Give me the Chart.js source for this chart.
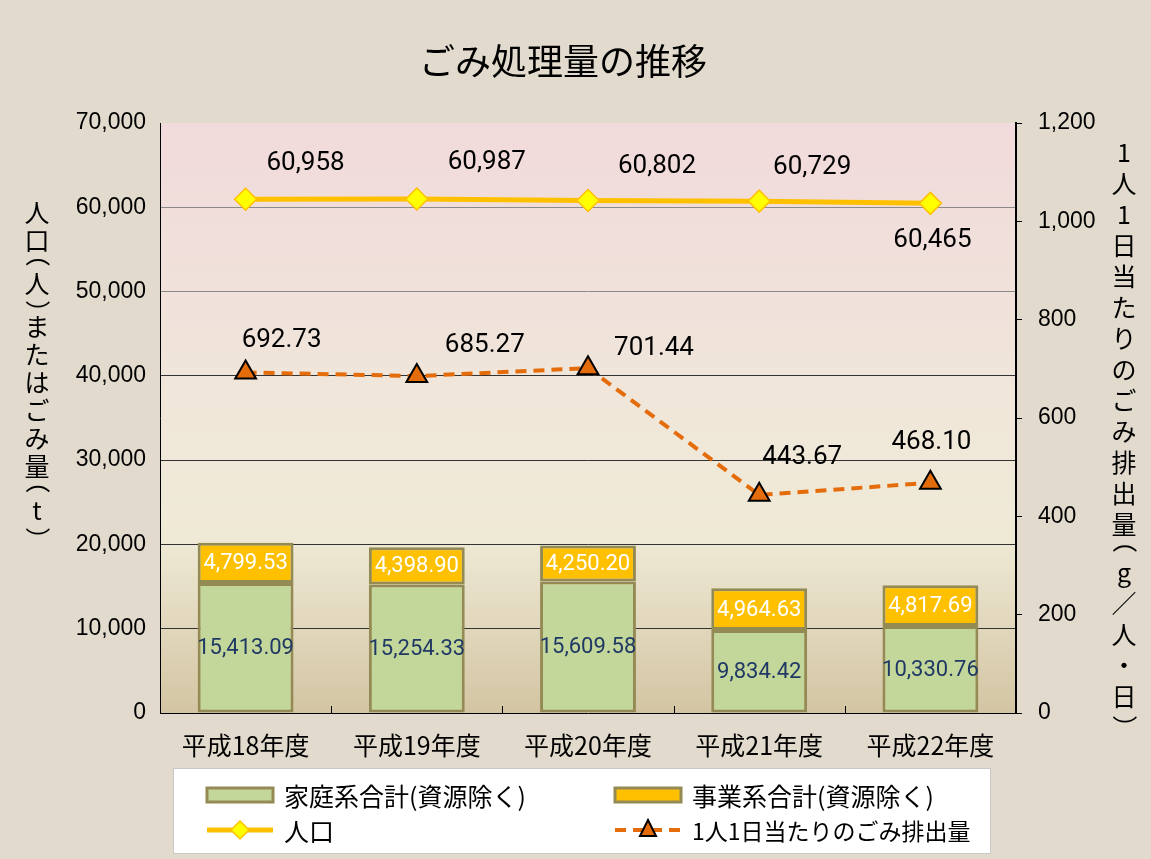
<!DOCTYPE html>
<html>
<head>
<meta charset="utf-8">
<script src="https://cdn.jsdelivr.net/npm/chart.js@4.4.1/dist/chart.umd.min.js"></script>
<style>
  html, body { margin: 0; padding: 0; background: #e2dbcd; }
  #wrap { width: 1151px; height: 859px; }
</style>
</head>
<body>
<div id="wrap"><canvas id="GomiChart"></canvas></div>
<script>
var years = ['平成18年度', '平成19年度', '平成20年度', '平成21年度', '平成22年度'];
var katei = [15413.09, 15254.33, 15609.58, 9834.42, 10330.76];   // 家庭系合計(資源除く) t
var jigyo = [4799.53, 4398.90, 4250.20, 4964.63, 4817.69];       // 事業系合計(資源除く) t
var jinko = [60958, 60987, 60802, 60729, 60465];                 // 人口
var haishutsu = [692.73, 685.27, 701.44, 443.67, 468.10];        // g/人・日

var leftTitle = '人口（人）またはごみ量（t）';
var rightTitle = '1人1日当たりのごみ排出量（g／人・日）';

// ラベルのずらし量 (px)
var jinkoOffsets = [[60, -36], [70, -36], [69, -34], [53, -34], [2, 37]];
var haiOffsets = [[36, -32], [68, -31], [66, -20], [43, -37], [1, -40]];

var jpFont = '"Noto Sans CJK JP", sans-serif';
var numFont = 'Roboto, "Liberation Sans", sans-serif';
var tickFont = '"Liberation Sans", Arial, sans-serif';

function fmt(v, d) {
  return v.toLocaleString('en-US', { minimumFractionDigits: d, maximumFractionDigits: d });
}

// 背景グラデーション、タイトル、縦書き軸タイトル
var decoPlugin = {
  id: 'deco',
  beforeDraw: function(chart) {
    var c = chart.ctx, a = chart.chartArea;
    var g = c.createLinearGradient(0, a.top, 0, a.bottom);
    g.addColorStop(0, '#f1dadb');
    g.addColorStop(0.45, '#f0e6da');
    g.addColorStop(0.7, '#efead6');
    g.addColorStop(1, '#d3c5a3');
    c.save();
    c.fillStyle = g;
    c.fillRect(a.left, a.top, a.right - a.left, a.bottom - a.top);
    c.restore();
  },
  afterDraw: function(chart) {
    var c = chart.ctx;
    c.save();
    c.fillStyle = '#000';
    c.textAlign = 'center';
    c.textBaseline = 'middle';
    c.font = '36px ' + jpFont;
    c.fillText('ごみ処理量の推移', 563, 61);
    drawVertical(c, leftTitle, 37, 212, 28, 25);
    drawVertical(c, rightTitle, 1124, 152, 31, 25);

    // 項目軸の目盛 (内向き)
    var xs = chart.scales.x, a = chart.chartArea;
    c.strokeStyle = '#000';
    c.lineWidth = 1;
    for (var i = 0; i < years.length - 1; i++) {
      var px = (xs.getPixelForValue(i) + xs.getPixelForValue(i + 1)) / 2;
      c.beginPath();
      c.moveTo(Math.round(px) + 0.5, a.bottom);
      c.lineTo(Math.round(px) + 0.5, a.bottom - 7);
      c.stroke();
    }
    c.restore();
  }
};

// 縦書き (括弧は90度回転)
function drawVertical(c, text, x, y, step, size) {
  c.font = size + 'px ' + jpFont;
  var chars = Array.from(text);
  for (var i = 0; i < chars.length; i++) {
    var ch = chars[i];
    if (ch === '（' || ch === '）') {
      var h = step * 0.55;
      var mid = y - step / 2 + h / 2;
      var shift = size * 0.3 * (ch === '（' ? -1 : 1);
      c.save();
      c.translate(x, mid + shift);
      c.rotate(Math.PI / 2);
      c.fillText(ch, 0, 0);
      c.restore();
      y += h;
    } else {
      c.fillText(ch, x, y);
      y += step;
    }
  }
}

// データラベル
var labelPlugin = {
  id: 'labels',
  afterDatasetsDraw: function(chart) {
    var c = chart.ctx;
    c.save();
    c.textAlign = 'center';
    c.textBaseline = 'middle';
    chart.data.datasets.forEach(function(ds, di) {
      var meta = chart.getDatasetMeta(di);
      meta.data.forEach(function(el, i) {
        if (ds.type === 'line') {
          var off = ds.label === '人口' ? jinkoOffsets[i] : haiOffsets[i];
          c.font = '26px ' + numFont;
          c.fillStyle = '#000';
          c.fillText(ds.label === '人口' ? fmt(ds.data[i], 0) : fmt(ds.data[i], 2), el.x + off[0], el.y + off[1]);
        } else {
          c.font = '22px ' + numFont;
          c.fillStyle = ds.labelColor;
          c.fillText(fmt(ds.data[i], 2), el.x, (el.y + el.base) / 2 + 1);
        }
      });
    });
    c.restore();
  }
};

// 凡例 (2列)
var legendPlugin = {
  id: 'legendBox',
  afterDraw: function(chart) {
    var c = chart.ctx;
    var ds = chart.data.datasets;
    c.save();
    c.fillStyle = '#ffffff';
    c.fillRect(173, 768, 817, 85);
    c.strokeStyle = '#c8c8c8';
    c.lineWidth = 1;
    c.strokeRect(173.5, 768.5, 817, 85);

    c.textAlign = 'left';
    c.textBaseline = 'middle';
    var cols = [207, 615];
    var rows = [795, 830];
    var order = [2, 3, 0, 1];
    order.forEach(function(di, k) {
      var d = ds[di];
      var x = cols[k % 2], y = rows[Math.floor(k / 2)];
      if (d.type === 'line') {
        c.strokeStyle = d.borderColor;
        c.lineWidth = d.borderWidth;
        c.setLineDash(d.borderDash || []);
        c.beginPath();
        c.moveTo(x, y);
        c.lineTo(x + 66, y);
        c.stroke();
        c.setLineDash([]);
        c.fillStyle = d.pointBackgroundColor;
        c.strokeStyle = d.pointBorderColor;
        c.lineWidth = d.pointBorderWidth;
        c.beginPath();
        if (d.pointStyle === 'rectRot') {
          var r = 9;
          c.moveTo(x + 33, y - r); c.lineTo(x + 33 + r, y); c.lineTo(x + 33, y + r); c.lineTo(x + 33 - r, y);
        } else {
          c.moveTo(x + 33, y - 10); c.lineTo(x + 33 + 8, y + 6); c.lineTo(x + 33 - 8, y + 6);
        }
        c.closePath();
        c.fill();
        c.stroke();
      } else {
        c.fillStyle = d.backgroundColor;
        c.strokeStyle = d.borderColor;
        c.lineWidth = 3;
        c.fillRect(x, y - 7, 66, 14);
        c.strokeRect(x, y - 7, 66, 14);
      }
      c.fillStyle = '#000';
      c.font = (d.label.length > 10 && d.type === 'line' ? '23px ' : '25px ') + jpFont;
      c.fillText(d.label, x + 77, y + 1);
    });
    c.restore();
  }
};

var data = {
  labels: years,
  datasets: [
    {
      type: 'line',
      label: '人口',
      data: jinko,
      yAxisID: 'y',
      borderColor: '#ffc000',
      borderWidth: 5,
      pointStyle: 'rectRot',
      pointRadius: 11,
      pointHoverRadius: 11,
      pointBackgroundColor: '#ffff00',
      pointBorderColor: '#ffc000',
      pointBorderWidth: 1.5,
      order: 1
    },
    {
      type: 'line',
      label: '1人1日当たりのごみ排出量',
      data: haishutsu,
      yAxisID: 'y1',
      borderColor: '#e46c0a',
      borderWidth: 4,
      borderDash: [11, 7],
      pointStyle: 'triangle',
      pointRadius: 12,
      pointHoverRadius: 12,
      pointBackgroundColor: '#e46c0a',
      pointBorderColor: '#000000',
      pointBorderWidth: 2,
      order: 0
    },
    {
      label: '家庭系合計(資源除く)',
      data: katei,
      yAxisID: 'y',
      stack: 'gomi',
      backgroundColor: '#c4d79b',
      borderColor: '#948a54',
      borderWidth: 3,
      borderSkipped: false,
      labelColor: '#1f3864',
      order: 2
    },
    {
      label: '事業系合計(資源除く)',
      data: jigyo,
      yAxisID: 'y',
      stack: 'gomi',
      backgroundColor: '#ffc000',
      borderColor: '#948a54',
      borderWidth: 3,
      borderSkipped: false,
      labelColor: '#ffffff',
      order: 2
    }
  ]
};

var options = {
  responsive: true,
  maintainAspectRatio: false,
  animation: false,
  locale: 'en-US',
  layout: { padding: { top: 123, bottom: 96, left: 0, right: 0 } },
  datasets: { bar: { barPercentage: 0.56, categoryPercentage: 1.0 } },
  plugins: {
    legend: { display: false },
    title: { display: false },
    tooltip: { enabled: false }
  },
  scales: {
    x: {
      stacked: true,
      grid: { display: false },
      border: { color: '#000000', width: 1 },
      ticks: { color: '#000', font: { family: jpFont, size: 25 }, padding: 9 },
      afterFit: function(s) { s.height = 50; }
    },
    y: {
      stacked: true,
      min: 0,
      max: 70000,
      ticks: { stepSize: 10000, color: '#000', font: { family: tickFont, size: 23 }, padding: 14 },
      grid: {
        drawTicks: false,
        color: function(ctx) {
          var v = ctx.tick ? ctx.tick.value : 0;
          if (v >= 70000 || v === 0) return 'rgba(0,0,0,0)';
          return v >= 50000 ? '#8a8a8a' : '#333333';
        }
      },
      border: { color: '#000000', width: 1 },
      afterFit: function(s) { s.width = 160; }
    },
    y1: {
      position: 'right',
      min: 0,
      max: 1200,
      ticks: { stepSize: 200, color: '#000', font: { family: tickFont, size: 23 }, padding: 16 },
      grid: { drawOnChartArea: false, color: '#000000', tickLength: 6 },
      border: { color: '#000000', width: 2 },
      afterFit: function(s) { s.width = 135; }
    }
  }
};

var ctx = document.getElementById('GomiChart');
var GomiChart = new Chart(ctx, {
  type: 'bar',
  data: data,
  options: options,
  plugins: [decoPlugin, labelPlugin, legendPlugin]
});
</script>
</body>
</html>
